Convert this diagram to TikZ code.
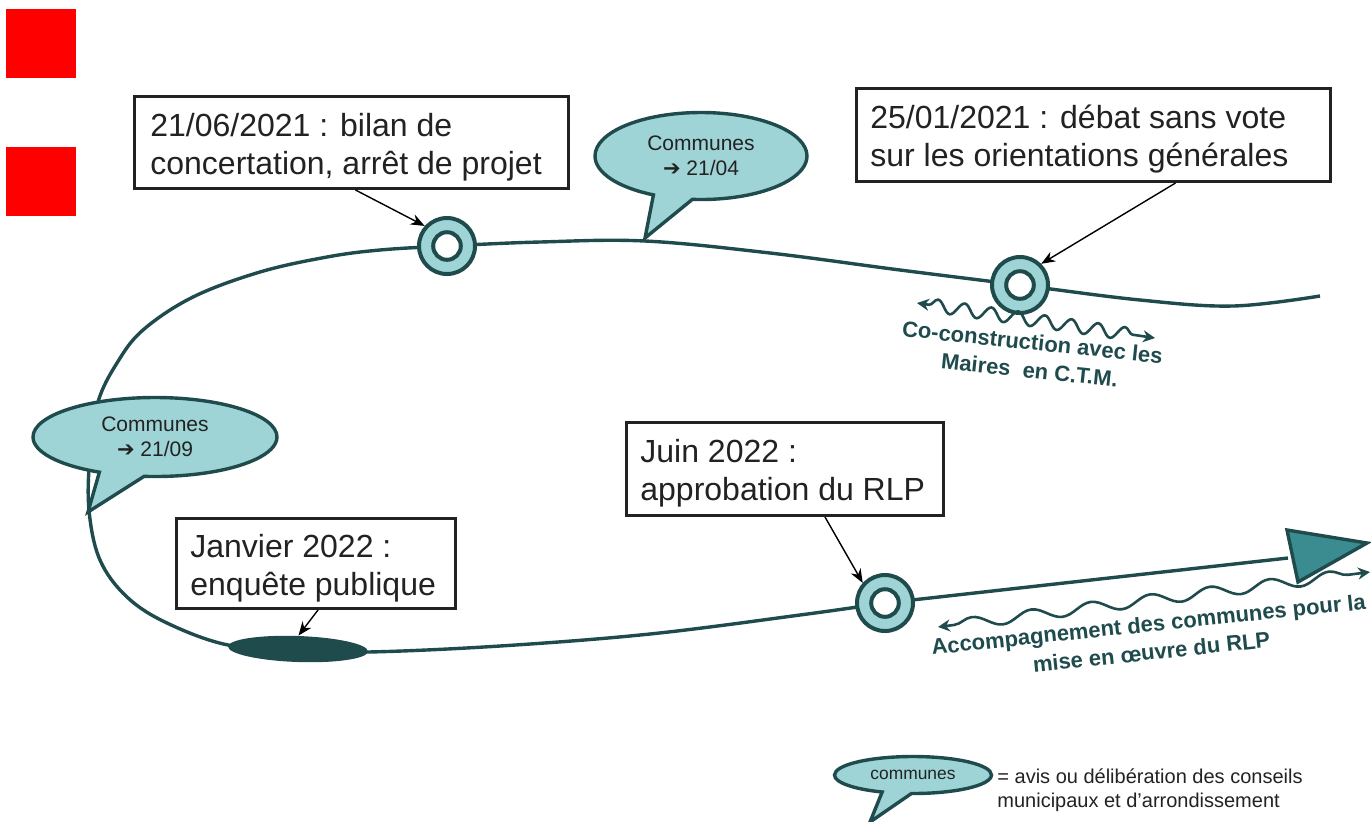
\documentclass[tikz,border=0pt]{standalone}
\usepackage{fontspec}
\setmainfont{Liberation Sans}
\newfontfamily\dejavu{DejaVu Sans}
\usetikzlibrary{shapes.geometric,shapes.callouts,arrows.meta,decorations.pathmorphing}
\definecolor{dteal}{HTML}{1F4B4D}
\definecolor{lteal}{HTML}{9FD4D7}
\definecolor{mteal}{HTML}{3B8C90}
\definecolor{boxc}{HTML}{222222}
\definecolor{txt}{HTML}{222222}
\begin{document}
\begin{tikzpicture}[x=0.5pt,y=-0.5pt,
  curve/.style={draw=dteal,line width=1.7pt},
  ring/.style={circle,draw=dteal,line width=2pt,fill=lteal,minimum size=28pt,inner sep=0pt},
  hole/.style={fill=white,draw=dteal,line width=2pt},
  datebox/.style={rectangle,draw=boxc,line width=1.5pt,fill=white,inner sep=0pt},
  boxtext/.style={anchor=west,align=left,inner sep=0pt,text=txt,font=\fontsize{16}{18.8}\selectfont},
  bubble/.style={ellipse callout,draw=dteal,line width=1.7pt,fill=lteal,inner sep=0pt,
    callout pointer arc=22,align=center,text=txt,font=\fontsize{10.5}{12.5}\selectfont},
  ptr/.style={-{Stealth[length=7pt,width=5.5pt]},line width=0.7pt,draw=black},
  wave/.style={draw=dteal,line width=1.3pt,{Stealth[length=6pt,width=6pt]}-{Stealth[length=6pt,width=6pt]},
    decorate},
  lbl/.style={text=dteal,font=\bfseries\fontsize{11}{14}\selectfont,align=center,inner sep=0pt}]
\useasboundingbox (0,0) rectangle (1371,821);

% red squares
\fill[red] (6,9) rectangle (76,78);
\fill[red] (6,147) rectangle (76,216);

% main curve
\draw[curve] plot[smooth,tension=0.6] coordinates {(1320,296) (1233,306) (1140,300) (1020,285) (900,270) (770,253) (645,241) (540,242) (447,246) (380,250) (327,257) (260,272) (193,297) (143,330) (117,363) (98,402) (90,455) (89,510) (100,560) (127,597) (167,623) (228,645) (298,650)};
\draw[curve] plot[smooth,tension=0.6] coordinates {(298,650) (368,652) (500,646) (650,634) (800,615) (885,603)};

% triangle end
\coordinate (tri) at (1288,558);
\draw[curve] (885,603) -- (tri);
\filldraw[fill=mteal,draw=dteal,line width=1.7pt,line join=miter] (1287,530) -- (1367,543) -- (1298,582) -- cycle;

% markers
\node[ring] (r1) at (447,246) {};
\fill[hole] (r1.center) circle (6.9pt);
\node[ring] (r2) at (1020,285) {};
\fill[hole] (r2.center) circle (6.9pt);
\node[ring] (r3) at (885,603) {};
\fill[hole] (r3.center) circle (6.9pt);
\node[ellipse,fill=dteal,minimum width=70pt,minimum height=13pt,inner sep=0pt,rotate=-2] (e1) at (298,649) {};

% wavy arrows
\coordinate (w1a) at (917,303);
\coordinate (w1b) at (1155,338);
\draw[wave,decoration={snake,amplitude=3.2pt,segment length=13.5pt,pre length=6pt,post length=6pt}] (w1a) -- (w1b);
\coordinate (w2a) at (938,627);
\coordinate (w2b) at (1370,572);
\draw[wave,decoration={snake,amplitude=2.8pt,segment length=30pt,pre length=8pt,post length=8pt}] (w2a) -- (w2b);

% rotated labels
\node[lbl,rotate=-6] (l1) at (1031,356) {Co-construction avec les\\Maires\ \ en C.T.M.};
\node[lbl,rotate=6] (l2) at (1150,638) {Accompagnement des communes pour la\\mise en œuvre du RLP};

% boxes
\node[datebox,minimum width=217pt,minimum height=46pt] (b1) at (351.5,142.5) {};
\node[boxtext] (t1) at (150,147) {21/06/2021 : bilan de\\concertation, arrêt de projet};
\node[datebox,minimum width=237pt,minimum height=46.5pt] (b2) at (1093.5,135) {};
\node[boxtext] (t2) at (870,139) {25/01/2021 : débat sans vote\\sur les orientations générales};
\node[datebox,minimum width=158.5pt,minimum height=46.5pt] (b3) at (785,469) {};
\node[boxtext] (t3) at (640,473) {Juin 2022 :\\approbation du RLP};
\node[datebox,minimum width=139.5pt,minimum height=45pt] (b4) at (316,563.5) {};
\node[boxtext] (t4) at (190,568) {Janvier 2022 :\\enquête publique};

% pointers
\draw[ptr] ([xshift=2pt]b1.south) -- (r1.138);
\draw[ptr] ([xshift=41pt]b2.south) -- (r2.45);
\draw[ptr] ([xshift=20pt]b3.south) -- (r3.138);
\draw[ptr] ([xshift=1pt]b4.south) -- (e1.north);

% bubbles
\coordinate (p1) at (645,238);
\node[bubble,minimum width=106pt,minimum height=43.5pt,callout absolute pointer={(p1)}] (c1) at (701,156) {Communes\\{\dejavu\bfseries ➔} 21/04};
\coordinate (p2) at (88,512);
\node[bubble,minimum width=122pt,minimum height=39.5pt,callout absolute pointer={(p2)}] (c2) at (155,437) {Communes\\{\dejavu\bfseries ➔} 21/09};

% legend
\coordinate (p3) at (870,822);
\node[bubble,minimum width=78.5pt,minimum height=18.5pt,callout absolute pointer={(p3)},font=\fontsize{8.7}{10}\selectfont] (c3) at (913,775) {communes};
\node[anchor=west,align=left,inner sep=0pt,text=txt,font=\fontsize{10}{12}\selectfont] (leg) at (997,790) {= avis ou délibération des conseils\\municipaux et d’arrondissement};
\end{tikzpicture}
\end{document}
